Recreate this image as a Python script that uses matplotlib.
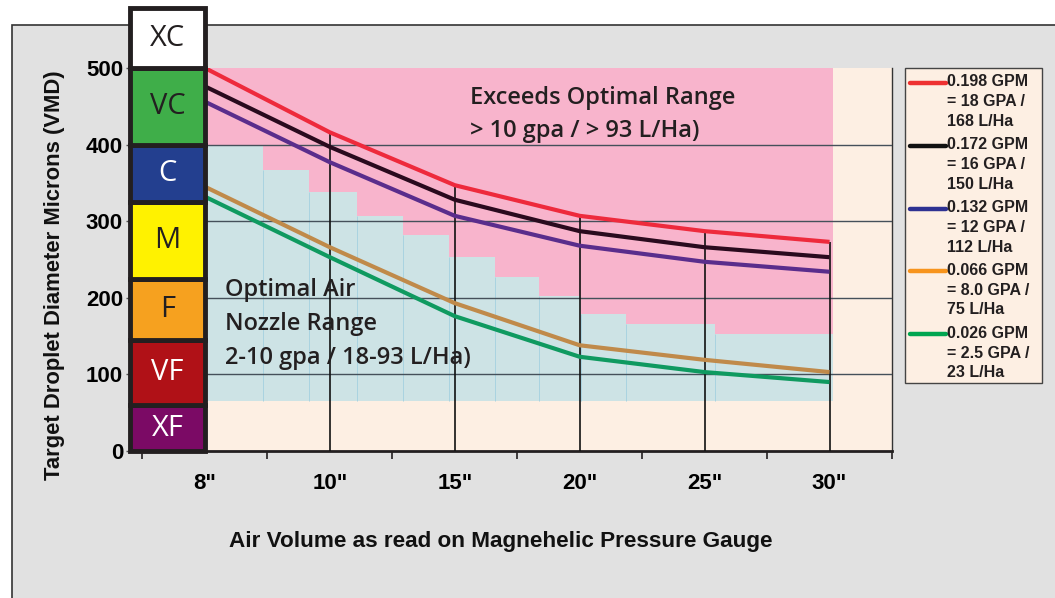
import matplotlib.pyplot as plt
from matplotlib.patches import Rectangle
from matplotlib.lines import Line2D

W, H = 1055, 598

# x positions are the gauge readings, drawn as evenly spaced categories
gauge_labels = ['8"', '10"', '15"', '20"', '25"', '30"']
gauge_pos = [0, 1, 2, 3, 4, 5]

# droplet size (VMD microns) for each flow rate
red_198 = [500, 416, 347, 307, 287, 273]
black_172 = [476, 397, 328, 287, 266, 253]
purple_132 = [456, 377, 307, 268, 247, 234]
tan_066 = [345, 266, 193, 138, 119, 103]
green_026 = [332, 253, 176, 123, 103, 90]

legend_labels = ['0.198 GPM\n= 18 GPA /\n168 L/Ha',
                 '0.172 GPM\n= 16 GPA /\n150 L/Ha',
                 '0.132 GPM\n= 12 GPA /\n112 L/Ha',
                 '0.066 GPM\n= 8.0 GPA /\n75 L/Ha',
                 '0.026 GPM\n= 2.5 GPA /\n23 L/Ha']

# optimal air nozzle range (teal staircase)
step_left = [0, 0.464, 0.832, 1.216, 1.584, 1.952, 2.32, 2.672, 3.008, 3.368, 4.08]
step_end = 5.03
step_top = [400, 367, 338, 307, 282, 253, 227, 202, 179, 166, 153]
step_bottom = 65
zone_top = 500

# droplet classes
class_names = ['XF', 'VF', 'F', 'M', 'C', 'VC', 'XC']
class_bounds = [0, 60, 145, 225, 325, 400, 500, 578]
class_colors = ['#7b0a65', '#b01117', '#f6a11f', '#fff200', '#233f8f', '#3fae49', '#ffffff']
class_text = ['white', 'white', '#231f20', '#231f20', 'white', '#231f20', '#231f20']

fig = plt.figure(figsize=(W / 100, H / 100), dpi=100, facecolor='white')

# grey panel behind everything
fig.add_artist(Rectangle((12 / W, -0.01), 1.0, 1 - 25 / H + 0.01, transform=fig.transFigure,
                         facecolor='#e1e1e1', edgecolor='#333333', linewidth=1.2, zorder=-10))

ax = fig.add_axes([130 / W, 1 - 451 / H, 762 / W, 383 / H])
ax.set_facecolor('#fdefe3')
ax.set_xlim(-0.6, 5.5)
ax.set_ylim(0, 500)

# pink "exceeds" zone and teal staircase
ax.fill_between([0, step_end], step_bottom, zone_top, color='#f8b4cc', linewidth=0, zorder=1)
widths = [b - a for a, b in zip(step_left, step_left[1:] + [step_end])]
ax.bar(step_left, [t - step_bottom for t in step_top], width=widths, bottom=step_bottom,
       align='edge', color='#cde3e5', linewidth=0, zorder=2)
ax.vlines(step_left[1:], step_bottom, step_top[1:], color='#a9d3e0', linewidth=0.7, zorder=2)

# grid
ax.hlines([100, 200, 300, 400], 0, 5.5, color='#45505a', linewidth=1.0, zorder=3)
ax.vlines(gauge_pos[1:], 0, red_198[1:], color='#111111', linewidth=1.2, zorder=3)

ax.plot(gauge_pos, green_026, color='#0f9a60', linewidth=3, zorder=4, solid_capstyle='butt')
ax.plot(gauge_pos, tan_066, color='#c08a4a', linewidth=3, zorder=4, solid_capstyle='butt')
ax.plot(gauge_pos, purple_132, color='#5a2d8c', linewidth=3, zorder=4, solid_capstyle='butt')
ax.plot(gauge_pos, black_172, color='#2a0a1e', linewidth=3, zorder=4, solid_capstyle='butt')
ax.plot(gauge_pos, red_198, color='#ee2a3c', linewidth=3, zorder=4, solid_capstyle='butt')

# droplet class column
for i, name in enumerate(class_names):
    lo, hi = class_bounds[i], class_bounds[i + 1]
    ax.add_patch(Rectangle((-0.6, lo), 0.6, hi - lo, facecolor=class_colors[i], edgecolor='#231f20',
                           linewidth=3.5, clip_on=False, zorder=6))
    ax.text(-0.3, (lo + hi) / 2, name, ha='center', va='center', fontsize=21, family='Open Sans',
            color=class_text[i], zorder=7, clip_on=False)

ax.text(2.12, 439, 'Exceeds Optimal Range\n> 10 gpa / > 93 L/Ha)', ha='left', va='center',
        fontsize=17, family='Open Sans', weight='semibold', color='#231f20', linespacing=1.5, zorder=5)
ax.text(0.16, 166, 'Optimal Air\nNozzle Range\n2-10 gpa / 18-93 L/Ha)', ha='left', va='center',
        fontsize=17, family='Open Sans', weight='semibold', color='#231f20', linespacing=1.55, zorder=5)

# axes styling
for s in ['left', 'top']:
    ax.spines[s].set_visible(False)
ax.spines['right'].set_color('#333333')
ax.spines['right'].set_linewidth(1.0)
ax.spines['bottom'].set_linewidth(2)
ax.spines['bottom'].set_color('#231f20')
ax.set_yticks([0, 100, 200, 300, 400, 500])
ax.tick_params(axis='y', length=3, width=1, pad=2, labelsize=16, color='#555555')
ax.set_xticks(gauge_pos)
ax.set_xticklabels(gauge_labels)
ax.set_xticks([-0.5, 0.5, 1.5, 2.5, 3.5, 4.5, 5.5], minor=True)
ax.tick_params(axis='x', which='major', length=0, pad=16, labelsize=16)
ax.tick_params(axis='x', which='minor', length=6, width=1.2, color='#231f20')
for lab in ax.get_xticklabels() + ax.get_yticklabels():
    lab.set_family('Liberation Sans')
    lab.set_weight('bold')
    lab.set_zorder(8)

fig.text(55 / W, 1 - 275 / H, 'Target Droplet Diameter Microns (VMD)', rotation=90, ha='center',
         va='center', fontsize=15.8, family='Liberation Sans', weight='bold', color='#111111')
fig.text(501 / W, 1 - 541 / H, 'Air Volume as read on Magnehelic Pressure Gauge', ha='center',
         va='center', fontsize=16.2, family='Liberation Sans', weight='bold', color='#111111')

# legend box drawn by hand so the line sits on the first text row
fig.add_artist(Rectangle((905 / W, 1 - 383 / H), 137 / W, 315 / H, transform=fig.transFigure,
                         facecolor='#fdefe3', edgecolor='#444444', linewidth=1, zorder=1))
legend_colors = ['#ee3131', '#111111', '#2e3192', '#f7941d', '#00a651']
for i, (lab, col) in enumerate(zip(legend_labels, legend_colors)):
    y = 1 - (83 + 62.8 * i) / H
    fig.add_artist(Line2D([910 / W, 946 / W], [y, y], transform=fig.transFigure, color=col,
                          linewidth=3.2, solid_capstyle='round', zorder=2))
    fig.text(947 / W, y + 8.5 / H, lab, ha='left', va='top', fontsize=11.5, family='Liberation Sans',
             weight='bold', color='#231f20', linespacing=1.4, zorder=3)

fig.savefig('out.png', dpi=100, facecolor=fig.get_facecolor())
